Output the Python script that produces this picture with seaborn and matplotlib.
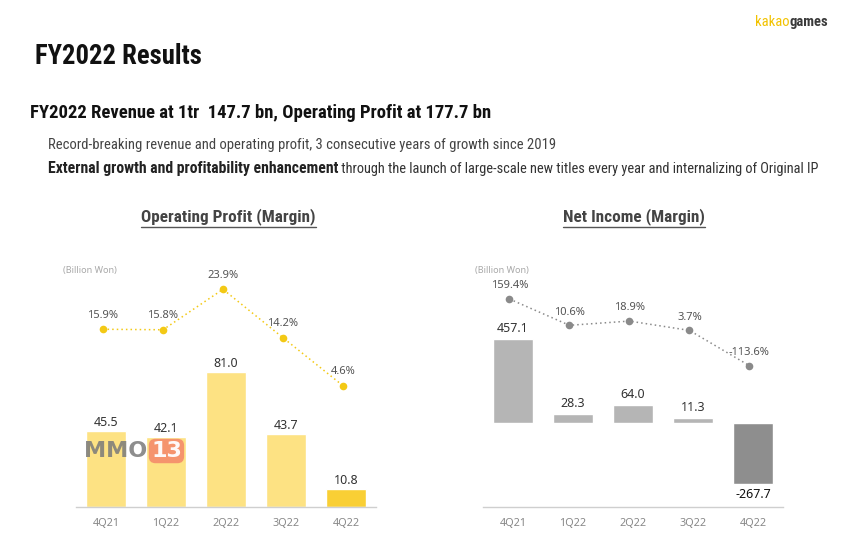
import numpy as np
import pandas as pd
import matplotlib
matplotlib.use("Agg")
import matplotlib.pyplot as plt
import seaborn as sns
from matplotlib import font_manager
from matplotlib.lines import Line2D

# ---------------- data ----------------
quarters = ["4Q21", "1Q22", "2Q22", "3Q22", "4Q22"]
op_profit = [45.5, 42.1, 81.0, 43.7, 10.8]
op_margin = [15.9, 15.8, 23.9, 14.2, 4.6]
net_income = [457.1, 28.3, 64.0, 11.3, -267.7]
net_margin = [159.4, 10.6, 18.9, 3.7, -113.6]

title = "FY2022 Results"
headline = "FY2022 Revenue at 1tr  147.7 bn, Operating Profit at 177.7 bn"
bullet1 = "Record-breaking revenue and operating profit, 3 consecutive years of growth since 2019"
bullet2_bold = "External growth and profitability enhancement"
bullet2_rest = " through the launch of large-scale new titles every year and internalizing of Original IP"
chart1_title = "Operating Profit (Margin)"
chart2_title = "Net Income (Margin)"
unit_label = "(Billion Won)"

# ---------------- fonts ----------------
avail = {f.name for f in font_manager.fontManager.ttflist}
narrow = None
for cand in ["Liberation Sans Narrow", "Roboto Condensed", "Open Sans Condensed", "DejaVu Sans Condensed"]:
    if cand in avail:
        narrow = cand
        break
base_font = "Noto Sans"
head_font = narrow if narrow else "Roboto"

sns.set_theme(style="white")
plt.rcParams["font.family"] = [base_font, "DejaVu Sans"]

W, H = 860, 556
fig = plt.figure(figsize=(W / 100, H / 100), dpi=100)
fig.patch.set_facecolor("white")


def fx(px):
    return px / W


def fy(py):
    return 1 - py / H


def rect_px(left, top, right, bottom):
    return [fx(left), fy(bottom), fx(right) - fx(left), (bottom - top) / H]


def text_right(t):
    fig.canvas.draw()
    return t.get_window_extent(fig.canvas.get_renderer()).x1 / W


# ---------------- header texts ----------------
t_k = fig.text(fx(755), fy(22), "kakao", color="#F2C200", fontsize=10.5, va="center",
               ha="left", family=head_font)
fig.text(text_right(t_k), fy(22), "games", color="#3a3a3a", fontsize=10.5, va="center",
         ha="left", family=head_font, fontweight="bold")

fig.text(fx(35), fy(57), title, fontsize=19.2, fontweight="bold", color="#111111",
         va="center", ha="left", family=head_font)
fig.text(fx(30), fy(113), headline, fontsize=13.4, fontweight="bold", color="#111111",
         va="center", ha="left", family=head_font)
fig.text(fx(48), fy(145), bullet1, fontsize=10.5, color="#444444", va="center", ha="left",
         family=head_font)
t_b = fig.text(fx(48), fy(169), bullet2_bold, fontsize=11.3, color="#222222", va="center",
               ha="left", family=head_font, fontweight="bold")
fig.text(text_right(t_b), fy(169), bullet2_rest, fontsize=10.35, color="#333333",
         va="center", ha="left", family=head_font)

# ---------------- chart titles (underlined) ----------------
for cx, txt in [(228.5, chart1_title), (634, chart2_title)]:
    t = fig.text(fx(cx), fy(217), txt, fontsize=12.3, color="#444444", ha="center",
                 va="center", family=head_font, fontweight="bold")
    fig.canvas.draw()
    b = t.get_window_extent(fig.canvas.get_renderer())
    fig.add_artist(Line2D([b.x0 / W, b.x1 / W], [fy(226.5), fy(226.5)], color="#555555",
                          lw=1.0, transform=fig.transFigure))

# ---------------- left chart: operating profit ----------------
df_op = pd.DataFrame({"quarter": quarters, "profit": op_profit, "margin": op_margin})

axL = fig.add_axes(rect_px(76, 260, 376, 507))
op_colors = ["#FDE283"] * 4 + ["#F9CF35"]
sns.barplot(data=df_op, x="quarter", y="profit", hue="quarter", palette=op_colors,
            width=0.667, legend=False, ax=axL, saturation=1)
px_per_unit = (431.7 - 372.7) / (81.0 - 45.5)
axL.set_ylim(0, (507 - 260) / px_per_unit)
axL.set_xlim(-0.5, 4.5)
for i, v in enumerate(op_profit):
    axL.annotate(f"{v:.1f}", (i, v), xytext=(0, 6.5), textcoords="offset points",
                 ha="center", va="center", fontsize=9, color="#333333")

axL2 = fig.add_axes(rect_px(76, 260, 376, 507))
axL2.patch.set_alpha(0)
sns.lineplot(x=np.arange(len(quarters)), y=op_margin, ax=axL2, color="#F3C915",
             lw=1.1, linestyle=(0, (1, 2)), marker="o", markersize=5.5,
             markeredgewidth=0)
m_px = (385.7 - 289.3) / (23.9 - 4.6)
axL2.set_ylim(4.6 - (507 - 385.7) / m_px, 4.6 + (385.7 - 260) / m_px)
axL2.set_xlim(-0.45, 4.55)
for i, v in enumerate(op_margin):
    axL2.annotate(f"{v:.1f}%", (i, v), xytext=(0, 10), textcoords="offset points",
                  ha="center", va="center", fontsize=8, color="#555555")

# ---------------- right chart: net income ----------------
df_ni = pd.DataFrame({"quarter": quarters, "income": net_income, "margin": net_margin})

P = 0.8
NEG = 1.128


def fwd_bar(v):
    v = np.asarray(v, dtype=float)
    return np.where(v >= 0, np.abs(v) ** P, -NEG * np.abs(v) ** P)


def inv_bar(f):
    f = np.asarray(f, dtype=float)
    return np.where(f >= 0, np.abs(f) ** (1 / P), -(np.abs(f) / NEG) ** (1 / P))


axR = fig.add_axes(rect_px(483, 260, 783, 507.3))
ni_colors = ["#B5B5B5"] * 4 + ["#8E8E8E"]
sns.barplot(data=df_ni, x="quarter", y="income", hue="quarter", palette=ni_colors,
            width=0.667, legend=False, ax=axR, saturation=1)
axR.set_yscale("function", functions=(fwd_bar, inv_bar))
f_px = (422.7 - 339.3) / float(fwd_bar(457.1))
zero_px = 422.7
axR.set_ylim(float(inv_bar(-(507.3 - zero_px) / f_px)), float(inv_bar((zero_px - 260) / f_px)))
axR.set_xlim(-0.5, 4.5)
for i, v in enumerate(net_income):
    if v >= 0:
        axR.annotate(f"{v:.1f}", (i, v), xytext=(0, 7.5), textcoords="offset points",
                     ha="center", va="center", fontsize=9, color="#333333")
    else:
        axR.annotate(f"{v:.1f}", (i, v), xytext=(0, -7.5), textcoords="offset points",
                     ha="center", va="center", fontsize=9, color="#111111",
                     fontweight="bold")


def fwd_m(v):
    v = np.asarray(v, dtype=float)
    return np.sign(v) * np.log1p(np.abs(v) / 10.0)


def inv_m(f):
    f = np.asarray(f, dtype=float)
    return np.sign(f) * 10.0 * np.expm1(np.abs(f))


axR2 = fig.add_axes(rect_px(483, 260, 783, 507.3))
axR2.patch.set_alpha(0)
sns.lineplot(x=np.arange(len(quarters)), y=net_margin, ax=axR2, color="#8A8A8A",
             lw=1.1, linestyle=(0, (1, 2)), marker="o", markersize=5.5,
             markeredgewidth=0)
axR2.set_yscale("function", functions=(fwd_m, inv_m))
fa, fb = float(fwd_m(159.4)), float(fwd_m(-113.6))
mpx = (365.7 - 299) / (fa - fb)
anchor = 299 + mpx * fa
axR2.set_ylim(float(inv_m((anchor - 507.3) / mpx)), float(inv_m((anchor - 260) / mpx)))
axR2.set_xlim(-0.44, 4.56)
for i, v in enumerate(net_margin):
    axR2.annotate(f"{v:.1f}%", (i, v), xytext=(0, 9.5), textcoords="offset points",
                  ha="center", va="center", fontsize=8, color="#555555")

# ---------------- axes styling ----------------
for ax in [axL, axR]:
    ax.set_xlabel("")
    ax.set_ylabel("")
    ax.set_yticks([])
    for s in ["top", "left", "right"]:
        ax.spines[s].set_visible(False)
    ax.spines["bottom"].set_color("#CFCFCF")
    ax.spines["bottom"].set_linewidth(1.0)
    ax.tick_params(axis="x", length=0, pad=8, labelsize=7.8, labelcolor="#888888")
for ax in [axL2, axR2]:
    ax.set_xticks([])
    ax.set_yticks([])
    ax.set_xlabel("")
    ax.set_ylabel("")
    for s in ax.spines.values():
        s.set_visible(False)

fig.text(fx(63), fy(270), unit_label, fontsize=6.5, color="#A8A8A8", ha="left", va="center")
fig.text(fx(475), fy(270), unit_label, fontsize=6.5, color="#A8A8A8", ha="left", va="center")

# ---------------- watermark ----------------
fig.text(fx(84), fy(451), "MMO", fontsize=16, fontweight="bold", color="#7a7a7a", alpha=0.85,
         ha="left", va="center", family="DejaVu Sans")
fig.text(fx(151), fy(451), "13", fontsize=16, fontweight="bold", color="white", alpha=0.95,
         ha="left", va="center", family="DejaVu Sans",
         bbox=dict(boxstyle="round,pad=0.1,rounding_size=0.3", fc="#F4876A", ec="none",
                   alpha=0.85))

fig.savefig("out.png", dpi=100, facecolor="white")
